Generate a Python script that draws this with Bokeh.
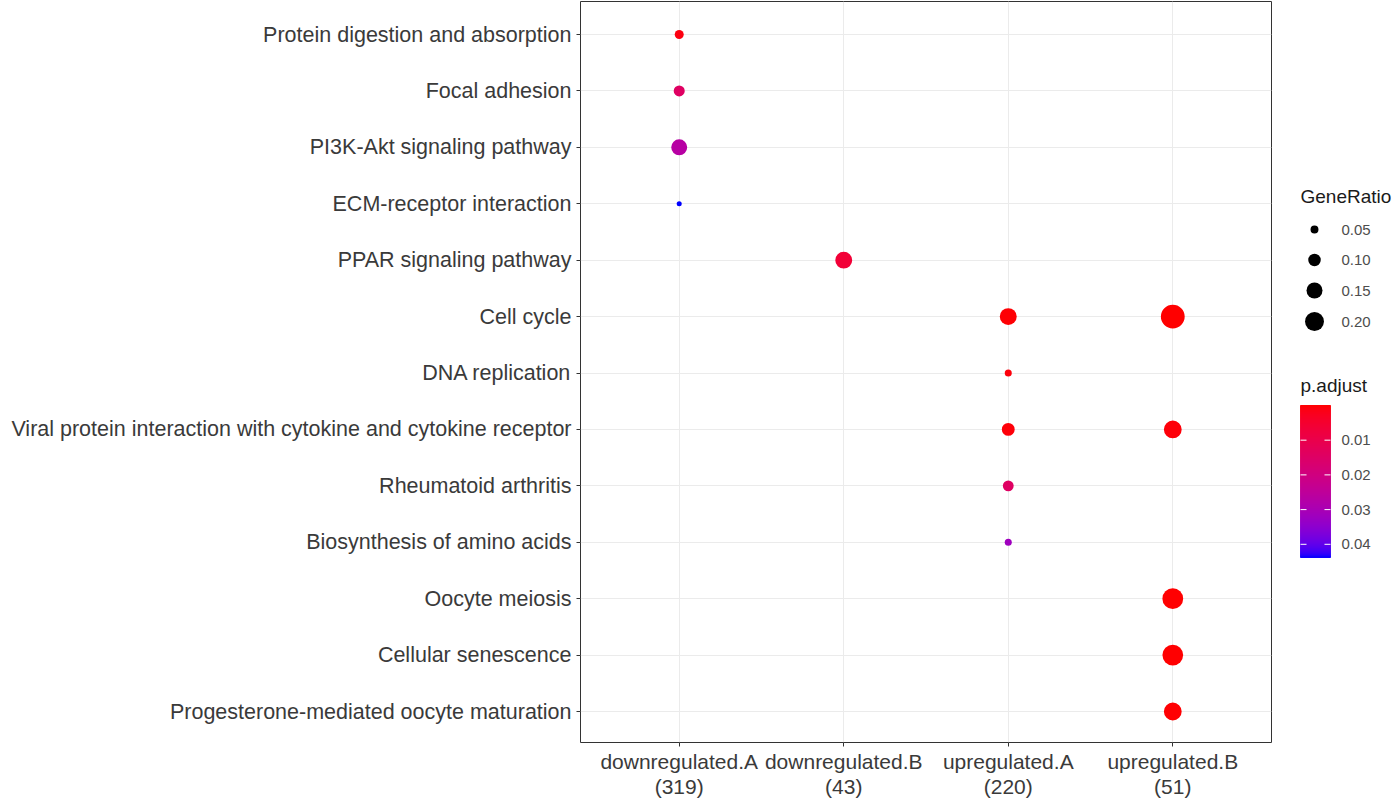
import math
from bokeh.plotting import figure
from bokeh.layouts import row
from bokeh.models import ColumnDataSource, FixedTicker, Range1d
from bokeh.core.properties import value
from bokeh.embed import file_html
from bokeh.resources import INLINE

# ---------------- data ----------------
clusters = ["downregulated.A", "downregulated.B", "upregulated.A", "upregulated.B"]
cluster_counts = [319, 43, 220, 51]

pathways = [  # top to bottom
    "Protein digestion and absorption",
    "Focal adhesion",
    "PI3K-Akt signaling pathway",
    "ECM-receptor interaction",
    "PPAR signaling pathway",
    "Cell cycle",
    "DNA replication",
    "Viral protein interaction with cytokine and cytokine receptor",
    "Rheumatoid arthritis",
    "Biosynthesis of amino acids",
    "Oocyte meiosis",
    "Cellular senescence",
    "Progesterone-mediated oocyte maturation",
]

pt_cluster = ["downregulated.A", "downregulated.A", "downregulated.A", "downregulated.A",
              "downregulated.B",
              "upregulated.A", "upregulated.A", "upregulated.A", "upregulated.A", "upregulated.A",
              "upregulated.B", "upregulated.B", "upregulated.B", "upregulated.B", "upregulated.B"]
pt_pathway = ["Protein digestion and absorption", "Focal adhesion", "PI3K-Akt signaling pathway",
              "ECM-receptor interaction",
              "PPAR signaling pathway",
              "Cell cycle", "DNA replication",
              "Viral protein interaction with cytokine and cytokine receptor",
              "Rheumatoid arthritis", "Biosynthesis of amino acids",
              "Cell cycle", "Viral protein interaction with cytokine and cytokine receptor",
              "Oocyte meiosis", "Cellular senescence", "Progesterone-mediated oocyte maturation"]
pt_gene_ratio = [0.060, 0.082, 0.150, 0.027,
                 0.165,
                 0.165, 0.042, 0.105, 0.080, 0.042,
                 0.300, 0.180, 0.235, 0.235, 0.180]
pt_padjust = [0.0012, 0.0145, 0.0270, 0.0438,
              0.0065,
              0.0003, 0.0008, 0.0006, 0.0145, 0.0320,
              0.00001, 0.0006, 0.00005, 0.0001, 0.0002]

size_breaks = [0.05, 0.10, 0.15, 0.20]
size_labels = ["0.05", "0.10", "0.15", "0.20"]
color_breaks = [0.01, 0.02, 0.03, 0.04]
color_labels = ["0.01", "0.02", "0.03", "0.04"]

# ---------------- styling helpers ----------------
def _lin(c):
    c = c / 255.0
    return c / 12.92 if c <= 0.04045 else ((c + 0.055) / 1.055) ** 2.4

def _gam(c):
    c = 12.92 * c if c <= 0.0031308 else 1.055 * c ** (1 / 2.4) - 0.055
    return max(0, min(255, round(c * 255)))

def rgb2lab(rgb):
    r, g, b = [_lin(v) for v in rgb]
    X = (0.4124 * r + 0.3576 * g + 0.1805 * b) / 0.95047
    Y = (0.2126 * r + 0.7152 * g + 0.0722 * b) / 1.0
    Z = (0.0193 * r + 0.1192 * g + 0.9505 * b) / 1.08883
    f = lambda t: t ** (1 / 3) if t > 0.008856 else 7.787 * t + 16 / 116
    fx, fy, fz = f(X), f(Y), f(Z)
    return (116 * fy - 16, 500 * (fx - fy), 200 * (fy - fz))

def lab2rgb(lab):
    L, a, b = lab
    fy = (L + 16) / 116
    fx = fy + a / 500
    fz = fy - b / 200
    finv = lambda t: t ** 3 if t ** 3 > 0.008856 else (t - 16 / 116) / 7.787
    X, Y, Z = finv(fx) * 0.95047, finv(fy), finv(fz) * 1.08883
    r = 3.2406 * X - 1.5372 * Y - 0.4986 * Z
    g = -0.9689 * X + 1.8758 * Y + 0.0415 * Z
    bb = 0.0557 * X - 0.2040 * Y + 1.0570 * Z
    return "#%02x%02x%02x" % (_gam(r), _gam(g), _gam(bb))

LOW, HIGH = rgb2lab((255, 0, 0)), rgb2lab((0, 0, 255))
pmin, pmax = min(pt_padjust), max(pt_padjust)

def pcolor(pv):
    t = (pv - pmin) / (pmax - pmin)
    t = max(0.0, min(1.0, t))
    return lab2rgb(tuple(LOW[i] + t * (HIGH[i] - LOW[i]) for i in range(3)))

def psize(r):
    return 49 * math.sqrt(r) - 3

# ---------------- main plot ----------------
n = len(pathways)
row_px = (711 - 34) / 12.0
pad_top = 33.0 / row_px
pad_bot = 31.0 / row_px
FRAME_TOP, FRAME_H = 1, 741

src = ColumnDataSource(dict(
    x=[clusters.index(c) + 1 for c in pt_cluster],
    y=[n - pathways.index(pw) for pw in pt_pathway],
    size=[psize(r) for r in pt_gene_ratio],
    color=[pcolor(v) for v in pt_padjust],
))

p = figure(frame_width=691, frame_height=FRAME_H,
           x_range=Range1d(0.4, 4.6), y_range=Range1d(1 - pad_bot, n + pad_top),
           output_backend="svg", toolbar_location=None,
           min_border_left=580, min_border_right=1, min_border_top=FRAME_TOP, min_border_bottom=50,
           background_fill_color="white", border_fill_color="white")

p.scatter(x="x", y="y", size="size", fill_color="color", line_color=None, source=src)

p.xaxis.ticker = FixedTicker(ticks=list(range(1, len(clusters) + 1)))
p.xaxis.major_label_overrides = {i + 1: f"{c}\n({k})" for i, (c, k) in enumerate(zip(clusters, cluster_counts))}
p.yaxis.ticker = FixedTicker(ticks=list(range(1, n + 1)))
p.yaxis.major_label_overrides = {n - i: pw for i, pw in enumerate(pathways)}

for ax in (p.xaxis[0], p.yaxis[0]):
    ax.axis_line_color = None
    ax.major_tick_in = 0
    ax.major_tick_out = 4
    ax.major_tick_line_color = "#333333"
    ax.minor_tick_line_color = None
    ax.major_label_text_color = "#3a3a3a"
    ax.major_label_text_font = "Liberation Sans"

p.yaxis.major_label_text_font_size = "21.5px"
p.yaxis.major_label_standoff = 5
p.xaxis.major_label_text_font_size = "21px"
p.xaxis.major_label_text_line_height = 1.12
p.xaxis.major_label_standoff = 3

p.grid.grid_line_color = "#EBEBEB"
p.grid.grid_line_width = 1
p.grid.minor_grid_line_color = None
p.outline_line_color = "#333333"
p.outline_line_width = 1

# ---------------- legend panel (coordinates = page pixels inside the panel) ----------------
leg = figure(frame_width=120, frame_height=FRAME_H,
             x_range=Range1d(0, 120), y_range=Range1d(FRAME_TOP + FRAME_H, FRAME_TOP),
             output_backend="svg", toolbar_location=None,
             min_border_left=0, min_border_right=0, min_border_top=FRAME_TOP, min_border_bottom=50,
             background_fill_color="white", border_fill_color="white")
leg.axis.visible = False
leg.grid.visible = False
leg.outline_line_color = None

txt_col = "#1a1a1a"
lab_col = "#4d4d4d"
leg.text(x=[28], y=[196], text=["GeneRatio"], text_font=value("Liberation Sans"),
         text_font_size="19px", text_baseline="middle", text_color=txt_col)
size_y = [229, 259.5, 290, 321]
leg.scatter(x=[42] * len(size_breaks), y=size_y, size=[psize(r) for r in size_breaks],
            fill_color="black", line_color=None)
leg.text(x=[69] * len(size_labels), y=size_y, text=size_labels, text_font=value("Liberation Sans"),
         text_font_size="15px", text_baseline="middle", text_color=lab_col)

leg.text(x=[28], y=[385], text=["p.adjust"], text_font=value("Liberation Sans"),
         text_font_size="19px", text_baseline="middle", text_color=txt_col)
cb_top, cb_bot = 405.0, 557.0
nseg = 152
tops, bots, cols = [], [], []
for i in range(nseg):
    a = cb_top + (cb_bot - cb_top) * i / nseg
    b = cb_top + (cb_bot - cb_top) * (i + 1) / nseg
    pv = pmin + (pmax - pmin) * (i + 0.5) / nseg
    tops.append(a)
    bots.append(b)
    cols.append(pcolor(pv))
leg.quad(left=28, right=58, top=tops, bottom=bots, fill_color=cols, line_color=cols, line_width=1)
tick_y = [cb_top + (v - pmin) / (pmax - pmin) * (cb_bot - cb_top) for v in color_breaks]
leg.segment(x0=[28] * 4, x1=[34] * 4, y0=tick_y, y1=tick_y, line_color="white", line_width=1)
leg.segment(x0=[52] * 4, x1=[58] * 4, y0=tick_y, y1=tick_y, line_color="white", line_width=1)
leg.text(x=[69] * 4, y=tick_y, text=color_labels, text_font=value("Liberation Sans"),
         text_font_size="15px", text_baseline="middle", text_color=lab_col)

layout = row(p, leg)
open("out.html", "w").write(file_html(layout, INLINE))
